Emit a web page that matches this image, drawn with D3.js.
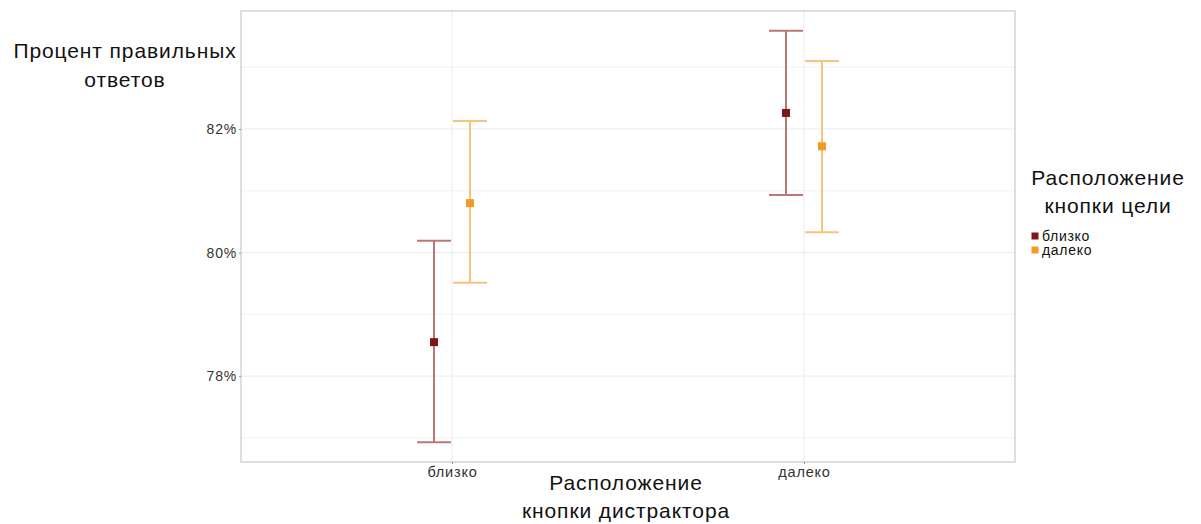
<!DOCTYPE html>
<html>
<head>
<meta charset="utf-8">
<script src="https://cdn.jsdelivr.net/npm/d3@7"></script>
<style>
  body { margin: 0; background: white; }
  text { font-family: "Liberation Sans", Arial, sans-serif; }
</style>
</head>
<body>
<div id="container"></div>
<script>
let w = 1201;
let h = 524;

// data
let distractor = ["близко", "далеко"];
let target = ["близко", "далеко"];
let means = [[78.55, 80.80], [82.26, 81.72]];
let lows = [[76.93, 79.51], [80.93, 80.33]];
let highs = [[80.19, 82.13], [83.59, 83.10]];
let yTicks = [78, 80, 82];

let rows = [];
distractor.forEach(function(d, i){
  target.forEach(function(t, j){
    rows.push({dist: d, targ: t, mean: means[i][j], lo: lows[i][j], hi: highs[i][j]});
  });
});

let pointColor = {"близко": "#7b1717", "далеко": "#f29a22"};
let barColor = {"близко": "#bb7777", "далеко": "#f8c47a"};

let pLeft = 241, pRight = 1015, pTop = 11, pBottom = 462;

let viz = d3.select("#container")
  .append("svg")
    .attr("width", w)
    .attr("height", h)
    .style("background-color", "white");

let xScale = d3.scalePoint().domain(distractor).range([452, 804]);
let dodge = d3.scalePoint().domain(target).range([-18, 18]);
let yScale = d3.scaleLinear().domain([76.61, 83.91]).range([pBottom, pTop]);

// grid
let minor = [77, 79, 81, 83];
viz.selectAll(".minor").data(minor).enter().append("line")
  .attr("x1", pLeft).attr("x2", pRight)
  .attr("y1", function(d){ return yScale(d); })
  .attr("y2", function(d){ return yScale(d); })
  .attr("stroke", "#f2f2f2").attr("stroke-width", 1);

viz.selectAll(".major").data(yTicks).enter().append("line")
  .attr("x1", pLeft).attr("x2", pRight)
  .attr("y1", function(d){ return yScale(d); })
  .attr("y2", function(d){ return yScale(d); })
  .attr("stroke", "#ebebeb").attr("stroke-width", 1);

viz.selectAll(".vmajor").data(distractor).enter().append("line")
  .attr("x1", function(d){ return xScale(d); })
  .attr("x2", function(d){ return xScale(d); })
  .attr("y1", pTop).attr("y2", pBottom)
  .attr("stroke", "#ebebeb").attr("stroke-width", 1);

viz.append("rect")
  .attr("x", pLeft).attr("y", pTop)
  .attr("width", pRight - pLeft).attr("height", pBottom - pTop)
  .attr("fill", "none").attr("stroke", "#c8c8c8").attr("stroke-width", 1.2);

// axes
let yAxis = viz.append("g")
  .attr("transform", "translate(" + pLeft + ",0)")
  .call(d3.axisLeft(yScale).tickValues(yTicks).tickSize(2).tickPadding(2).tickFormat(function(d){ return d + "%"; }));
yAxis.select(".domain").remove();
yAxis.selectAll("line").attr("stroke", "#999");
yAxis.selectAll("text").attr("font-size", 14).attr("fill", "#333")
  .attr("letter-spacing", "0.8px")
  .attr("font-family", "Liberation Sans, Arial, sans-serif");

let xAxis = viz.append("g")
  .attr("transform", "translate(0," + pBottom + ")")
  .call(d3.axisBottom(xScale).tickSize(2).tickPadding(3));
xAxis.select(".domain").remove();
xAxis.selectAll("line").attr("stroke", "#999");
xAxis.selectAll("text").attr("font-size", 14.5).attr("fill", "#333")
  .attr("letter-spacing", "0.8px")
  .attr("font-family", "Liberation Sans, Arial, sans-serif");

// error bars
let groups = viz.selectAll(".datagroup").data(rows).enter().append("g")
  .attr("transform", function(d){ return "translate(" + (xScale(d.dist) + dodge(d.targ)) + ",0)"; });

groups.append("line")
  .attr("x1", 0).attr("x2", 0)
  .attr("y1", function(d){ return yScale(d.lo); })
  .attr("y2", function(d){ return yScale(d.hi); })
  .attr("stroke", function(d){ return barColor[d.targ]; }).attr("stroke-width", 2);

groups.append("line")
  .attr("x1", -17).attr("x2", 17)
  .attr("y1", function(d){ return yScale(d.lo); })
  .attr("y2", function(d){ return yScale(d.lo); })
  .attr("stroke", function(d){ return barColor[d.targ]; }).attr("stroke-width", 2);

groups.append("line")
  .attr("x1", -17).attr("x2", 17)
  .attr("y1", function(d){ return yScale(d.hi); })
  .attr("y2", function(d){ return yScale(d.hi); })
  .attr("stroke", function(d){ return barColor[d.targ]; }).attr("stroke-width", 2);

groups.append("rect")
  .attr("x", -4).attr("width", 8).attr("height", 8)
  .attr("y", function(d){ return yScale(d.mean) - 4; })
  .attr("fill", function(d){ return pointColor[d.targ]; });

// titles
function title(lines, x, y0, dy){
  let t = viz.append("text").attr("text-anchor", "middle").attr("font-size", 21)
    .attr("letter-spacing", "0.9px").attr("fill", "#111");
  lines.forEach(function(s, i){
    t.append("tspan").attr("x", x).attr("y", y0 + i * dy).text(s);
  });
}
title(["Процент правильных", "ответов"], 125, 58, 29);
title(["Расположение", "кнопки дистрактора"], 626, 490, 28);
title(["Расположение", "кнопки цели"], 1108, 185, 28);

// legend
let legend = viz.selectAll(".legend").data(target).enter().append("g")
  .attr("transform", function(d, i){ return "translate(1035," + (236 + i * 14) + ")"; });
legend.append("rect")
  .attr("x", -3.5).attr("y", -3.5).attr("width", 7).attr("height", 7)
  .attr("fill", function(d){ return pointColor[d]; });
legend.append("text")
  .attr("x", 7).attr("y", 4.5)
  .attr("font-size", 14).attr("letter-spacing", "0.7px").attr("fill", "#111")
  .text(function(d){ return d; });
</script>
</body>
</html>
